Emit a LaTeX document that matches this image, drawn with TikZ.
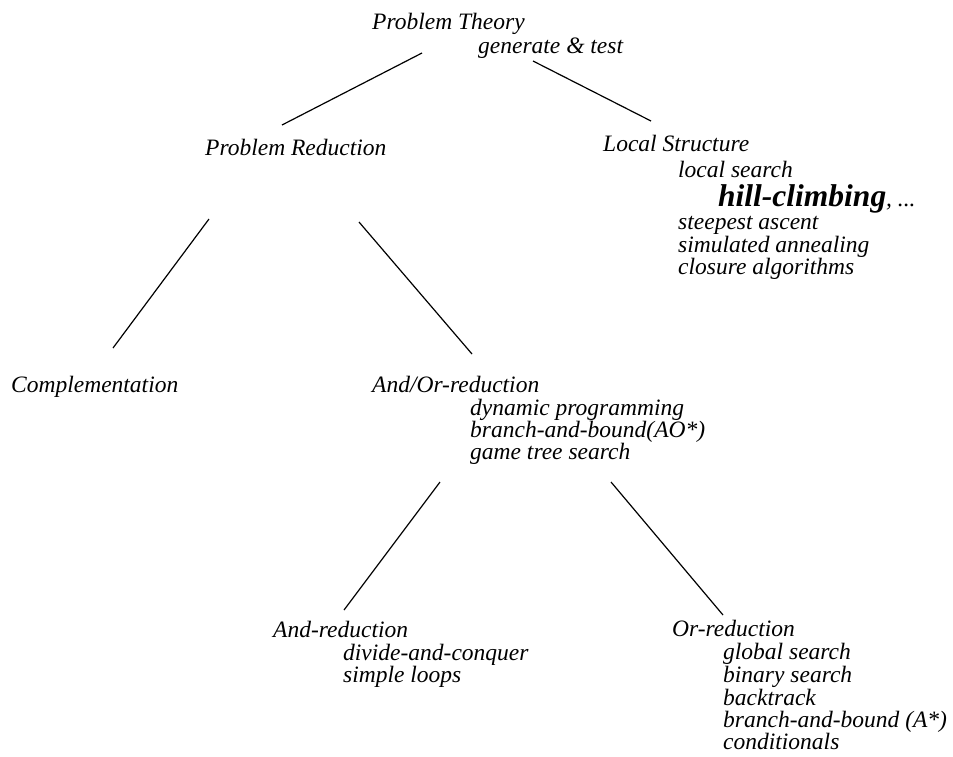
\documentclass[tikz,border=0pt]{standalone}
\usepackage{fontspec}
\setmainfont{Liberation Serif}
\begin{document}
\begin{tikzpicture}[x=1pt,y=-1pt,
  lbl/.style={anchor=base west,inner sep=0pt,font=\fontsize{23.5}{23.5}\selectfont\itshape},
  big/.style={anchor=base west,inner sep=0pt,font=\fontsize{31.5}{31.5}\selectfont\bfseries\itshape},
  edge/.style={line width=1.2pt,black}]
\useasboundingbox (0,0) rectangle (953,756);
% top
\node[lbl] (pt) at (372,29) {Problem Theory};
\node[lbl] (gt) at (478,53) {generate \& test};
% level 2
\node[lbl] (pr) at (205,155) {Problem Reduction};
\node[lbl] (ls) at (603,151) {Local Structure};
\node[lbl] (ls1) at (678,177) {local search};
\node[big] (hc) at (718,206) {hill-climbing\fontsize{23.5}{23.5}\selectfont\mdseries, ...};
\node[lbl] (ls2) at (678,229) {steepest ascent};
\node[lbl] (ls3) at (678,252) {simulated annealing};
\node[lbl] (ls4) at (678,274) {closure algorithms};
% level 3
\node[lbl] (cp) at (11,392) {Complementation};
\node[lbl] (ao) at (372,392) {And/Or-reduction};
\node[lbl] (ao1) at (470,415) {dynamic programming};
\node[lbl] (ao2) at (470,437) {branch-and-bound(AO*)};
\node[lbl] (ao3) at (470,459) {game tree search};
% level 4
\node[lbl] (ar) at (273,637) {And-reduction};
\node[lbl] (ar1) at (343,660) {divide-and-conquer};
\node[lbl] (ar2) at (343,682) {simple loops};
\node[lbl] (or) at (672,636) {Or-reduction};
\node[lbl] (or1) at (723,659) {global search};
\node[lbl] (or2) at (723,682) {binary search};
\node[lbl] (or3) at (723,705) {backtrack};
\node[lbl] (or4) at (723,727) {branch-and-bound (A*)};
\node[lbl] (or5) at (723,749) {conditionals};
% connector end points
\coordinate (ptL) at (422,53);
\coordinate (prT) at (282,125);
\coordinate (ptR) at (533,61);
\coordinate (lsT) at (651,121);
\coordinate (prL) at (209,219);
\coordinate (cpT) at (113,348);
\coordinate (prR) at (359,222);
\coordinate (aoT) at (472,354);
\coordinate (aoL) at (440,482);
\coordinate (arT) at (344,610);
\coordinate (aoR) at (611,482);
\coordinate (orT) at (723,615);
% connectors
\draw[edge] (ptL) -- (prT);
\draw[edge] (ptR) -- (lsT);
\draw[edge] (prL) -- (cpT);
\draw[edge] (prR) -- (aoT);
\draw[edge] (aoL) -- (arT);
\draw[edge] (aoR) -- (orT);
\end{tikzpicture}
\end{document}
